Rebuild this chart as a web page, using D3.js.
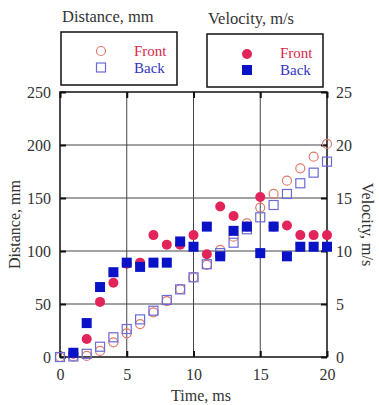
<!DOCTYPE html>
<html>
<head>
<meta charset="utf-8">
<script src="https://cdn.jsdelivr.net/npm/d3@7"></script>
<style>
  body { margin: 0; background: #fff; }
  text { font-family: "Liberation Serif", "DejaVu Serif", serif; }
</style>
</head>
<body>
<svg id="chart" width="379" height="405"></svg>
<script>
// time in ms
var time = [0, 1, 2, 3, 4, 5, 6, 7, 8, 9, 10, 11, 12, 13, 14, 15, 16, 17, 18, 19, 20];

// distance, mm (open markers, left axis)
var distFront = [0, 0.5, 1, 5.7, 13.8, 22.3, 31.1, 42.1, 52.8, 64, 75, 87, 101, 113.5, 126, 141, 153.8, 166.3, 178, 189, 201];
var distBack  = [0, 0.5, 3, 9.7, 18.6, 26.4, 35.5, 43.7, 53.8, 63.8, 75.2, 87.5, 98, 107.8, 120.5, 131.8, 143.4, 153.8, 163.9, 173.9, 184.3];

// velocity, m/s (filled markers, right axis) - starts at t = 1
var velTime  = [1, 2, 3, 4, 5, 6, 7, 8, 9, 10, 11, 12, 13, 14, 15, 16, 17, 18, 19, 20];
var velFront = [0.3, 1.7, 5.2, 7.0, 8.8, 8.9, 11.5, 10.6, 10.6, 11.5, 9.7, 14.2, 13.3, 12.3, 15.1, 12.3, 12.4, 11.5, 11.5, 11.5];
var velBack  = [0.4, 3.2, 6.6, 8.0, 8.9, 8.5, 8.9, 8.9, 10.9, 10.4, 12.3, 9.5, 11.9, 12.3, 9.8, 12.3, 9.5, 10.4, 10.4, 10.4];

var xTicks = [0, 5, 10, 15, 20];
var yLeftTicks = [0, 50, 100, 150, 200, 250];
var yRightTicks = [0, 5, 10, 15, 20, 25];

var cRed = "#e2245a", cBlue = "#0a12c8";
var cOpenRed = "#e07a6a", cOpenBlue = "#6a6ad8";

var margin = {top: 92, left: 60};
var w = 267, h = 265;

var svg = d3.select("#chart");
var g = svg.append("g").attr("transform", "translate(" + margin.left + "," + margin.top + ")");

var xScale = d3.scaleLinear().domain([0, 20]).range([0, w]);
var yLeft = d3.scaleLinear().domain([0, 250]).range([h, 0]);
var yRight = d3.scaleLinear().domain([0, 25]).range([h, 0]);

// grid lines
g.append("g").selectAll("line")
  .data([5, 10, 15])
  .enter().append("line")
  .attr("x1", function(d) { return xScale(d); })
  .attr("x2", function(d) { return xScale(d); })
  .attr("y1", 0).attr("y2", h)
  .attr("stroke", "#444").attr("stroke-width", 1);

g.append("g").selectAll("line")
  .data([50, 100, 150, 200])
  .enter().append("line")
  .attr("y1", function(d) { return yLeft(d); })
  .attr("y2", function(d) { return yLeft(d); })
  .attr("x1", 0).attr("x2", w)
  .attr("stroke", "#444").attr("stroke-width", 1);

// axes with inward ticks
function styleAxis(sel) {
  sel.select(".domain").remove();
  sel.selectAll(".tick line").attr("stroke", "#111").attr("stroke-width", 2);
  sel.selectAll(".tick text")
     .attr("font-family", "Liberation Serif, serif")
     .attr("font-size", "16px")
     .attr("fill", "#333");
}

g.append("g")
  .attr("transform", "translate(0," + h + ")")
  .call(d3.axisBottom(xScale).tickValues(xTicks).tickSizeInner(-6).tickPadding(12))
  .call(styleAxis);

g.append("g")
  .call(d3.axisTop(xScale).tickValues(xTicks).tickSizeInner(-6).tickFormat(""))
  .call(styleAxis);

g.append("g")
  .call(d3.axisLeft(yLeft).tickValues(yLeftTicks).tickSizeInner(-6).tickPadding(9))
  .call(styleAxis);

g.append("g")
  .attr("transform", "translate(" + w + ",0)")
  .call(d3.axisRight(yRight).tickValues(yRightTicks).tickSizeInner(-6).tickPadding(9))
  .call(styleAxis);

// frame
g.append("rect")
  .attr("width", w).attr("height", h)
  .attr("fill", "none").attr("stroke", "#111").attr("stroke-width", 1.5);

// distance - open markers
g.append("g").selectAll("circle")
  .data(time)
  .enter().append("circle")
  .attr("cx", function(d) { return xScale(d); })
  .attr("cy", function(d, i) { return yLeft(distFront[i]); })
  .attr("r", 4.5)
  .attr("fill", "none").attr("stroke", cOpenRed).attr("stroke-width", 1.2);

g.append("g").selectAll("rect")
  .data(time)
  .enter().append("rect")
  .attr("x", function(d) { return xScale(d) - 4.5; })
  .attr("y", function(d, i) { return yLeft(distBack[i]) - 4.5; })
  .attr("width", 9).attr("height", 9)
  .attr("fill", "none").attr("stroke", cOpenBlue).attr("stroke-width", 1.2);

// velocity - filled markers
g.append("g").selectAll("circle")
  .data(velTime)
  .enter().append("circle")
  .attr("cx", function(d) { return xScale(d); })
  .attr("cy", function(d, i) { return yRight(velFront[i]); })
  .attr("r", 5)
  .attr("fill", cRed);

g.append("g").selectAll("rect")
  .data(velTime)
  .enter().append("rect")
  .attr("x", function(d) { return xScale(d) - 5; })
  .attr("y", function(d, i) { return yRight(velBack[i]) - 5; })
  .attr("width", 10).attr("height", 10)
  .attr("fill", cBlue);

// axis titles
svg.append("text")
  .attr("transform", "translate(20," + (margin.top + h / 2) + ") rotate(-90)")
  .attr("text-anchor", "middle")
  .attr("font-size", "16px").attr("fill", "#333")
  .text("Distance, mm");

svg.append("text")
  .attr("transform", "translate(362," + (margin.top + h / 2) + ") rotate(90)")
  .attr("text-anchor", "middle")
  .attr("font-size", "16px").attr("fill", "#333")
  .text("Velocity, m/s");

svg.append("text")
  .attr("x", 201).attr("y", 401)
  .attr("text-anchor", "middle")
  .attr("font-size", "16px").attr("fill", "#333")
  .text("Time, ms");

// legends
function legend(x, y, title, filled) {
  svg.append("text")
    .attr("x", x + 1).attr("y", y - 10)
    .attr("font-size", "16.5px").attr("fill", "#333")
    .text(title);
  svg.append("rect")
    .attr("x", x).attr("y", y)
    .attr("width", 116).attr("height", 53)
    .attr("fill", "none").attr("stroke", "#111").attr("stroke-width", 1.5);
  var mx = x + 40;
  if (filled) {
    svg.append("circle").attr("cx", mx).attr("cy", y + 20).attr("r", 5).attr("fill", cRed);
    svg.append("rect").attr("x", mx - 5).attr("y", y + 31).attr("width", 10).attr("height", 10).attr("fill", cBlue);
  } else {
    svg.append("circle").attr("cx", mx).attr("cy", y + 19).attr("r", 4.5)
      .attr("fill", "none").attr("stroke", cOpenRed).attr("stroke-width", 1.2);
    svg.append("rect").attr("x", mx - 4.5).attr("y", y + 31).attr("width", 9).attr("height", 9)
      .attr("fill", "none").attr("stroke", cOpenBlue).attr("stroke-width", 1.2);
  }
  svg.append("text").attr("x", x + 73).attr("y", y + 24)
    .attr("font-size", "15px").attr("fill", "#d8284a").text("Front");
  svg.append("text").attr("x", x + 73).attr("y", y + 41)
    .attr("font-size", "15px").attr("fill", "#3434c0").text("Back");
}

legend(61, 32, "Distance, mm", false);
legend(207, 34, "Velocity, m/s", true);
</script>
</body>
</html>
